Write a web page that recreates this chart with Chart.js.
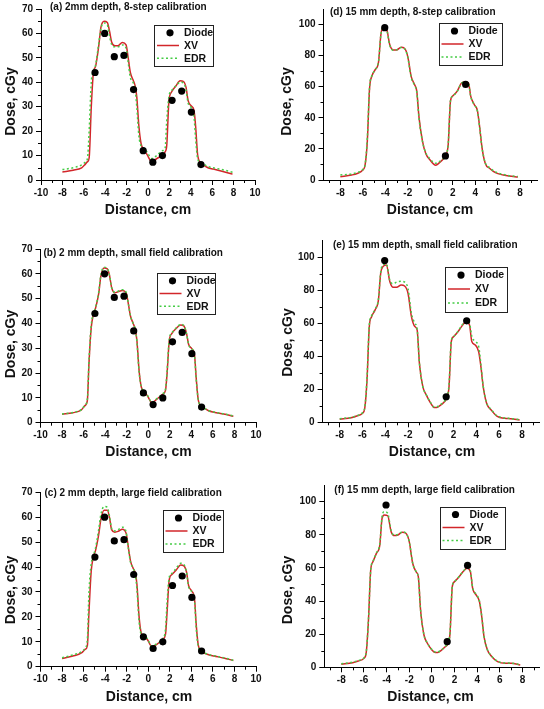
<!DOCTYPE html>
<html><head><meta charset="utf-8">
<script src="https://cdn.jsdelivr.net/npm/chart.js@4/dist/chart.umd.min.js"></script>
<style>
html,body{margin:0;padding:0;background:#fff;width:544px;height:709px;overflow:hidden}
canvas{position:absolute;left:0;top:0}
</style>
</head><body>
<canvas id="c0" width="544" height="709"></canvas>
<canvas id="c1" width="544" height="709"></canvas>
<canvas id="c2" width="544" height="709"></canvas>
<canvas id="c3" width="544" height="709"></canvas>
<canvas id="c4" width="544" height="709"></canvas>
<canvas id="c5" width="544" height="709"></canvas>
<script>
// ---------- DATA ----------
const xLeft = [-8, -7, -6.2, -5.85, -5.65, -5.5, -5.3, -5.1, -4.9, -4.6, -4.4, -4.1, -3.8, -3.6, -3.4, -3.1, -2.8, -2.4, -2.05, -1.85, -1.65, -1.4, -1.2, -1.05, -0.85, -0.65, -0.4, -0.1, 0.35, 0.8, 1.35, 1.6, 1.75, 1.95, 2.2, 2.6, 3.0, 3.3, 3.55, 3.75, 4.05, 4.3, 4.45, 4.65, 5.0, 5.6, 6.1, 7.0, 7.9];
const xvA  = [3.3, 4.0, 5.0, 6.5, 7.5, 9, 30, 44, 46.5, 55, 62.5, 65, 64.5, 61, 56.5, 55, 55, 56.3, 55.3, 50, 44, 41, 38.5, 34, 22, 15, 12.5, 10.5, 7.5, 8.7, 10.3, 11.5, 14, 32, 36, 38.5, 40.6, 40.4, 38, 32.5, 30.3, 28.5, 22, 10, 6.8, 5, 4.5, 3.5, 2.4];
const edrA = [4.3, 5.0, 6.2, 7.3, 9, 20, 40, 44.5, 47, 56, 62, 64.3, 63.5, 59, 55.5, 54.5, 54.5, 55.3, 54, 48, 42, 40, 37, 30, 18, 14, 13, 11.5, 8.8, 10, 12, 13, 24, 34, 36.5, 38.5, 40, 39.8, 37, 31.5, 29.5, 26, 17, 8.5, 7, 5.5, 5, 4.2, 3.2];
const xvB  = [3.4, 4.0, 5.2, 7, 9, 24, 38, 43.5, 46, 52, 59, 62.3, 62, 59.5, 54.5, 52.4, 52.8, 53.3, 52.3, 48, 43, 40, 37.5, 33, 21, 14.5, 12.5, 11, 8, 9.5, 11.5, 13, 20, 33, 36, 38, 39.4, 39, 36, 31.5, 29.8, 27, 18, 9, 6.5, 4.8, 4.2, 3.5, 2.6];
const edrB = [3.5, 4.1, 5.3, 7.2, 9.5, 25, 39, 43.8, 46.3, 52.5, 59.5, 62.6, 62.2, 59.5, 54.5, 52.6, 53, 53.6, 52.5, 48, 43, 40, 37.5, 32.5, 20.5, 14.5, 12.7, 11.2, 8.2, 9.7, 11.7, 13.5, 21, 33.5, 36.2, 38.2, 39.6, 39.2, 36, 31.5, 29.8, 26.5, 17.5, 9, 6.6, 4.9, 4.3, 3.6, 2.7];
const xvC  = [3.3, 4.3, 5.5, 7, 8.5, 22, 38, 44, 46.5, 53, 59, 62.8, 62.8, 60, 55, 54, 54.3, 55.2, 53.5, 48, 42.5, 39.5, 37.5, 33, 20, 13.5, 12, 11, 8, 9, 11, 13, 22, 35, 37, 38.8, 40.8, 40.5, 38, 32.5, 30.3, 27, 17, 8.5, 6, 4.8, 4.3, 3.5, 2.5];
const edrC = [3.6, 4.7, 6, 7.5, 11, 30, 41, 44.5, 47.5, 55, 61, 64.3, 64, 60.5, 55.5, 54.5, 55, 56, 54, 47.5, 42, 39.5, 37, 31, 18, 13, 12.3, 11.3, 8.3, 9.3, 11.3, 15, 26, 36, 37.5, 39.5, 41.5, 41, 38, 32, 30, 26, 15.5, 8, 6, 4.9, 4.4, 3.6, 2.6];

const xRight = [-8, -7, -6.5, -6, -5.8, -5.6, -5.4, -5.2, -4.9, -4.6, -4.4, -4.2, -3.9, -3.6, -3.3, -3.0, -2.6, -2.3, -2.0, -1.7, -1.4, -1.2, -1.0, -0.7, -0.4, 0, 0.3, 0.5, 0.8, 1.2, 1.4, 1.6, 1.8, 2.0, 2.4, 2.8, 3.1, 3.4, 3.6, 3.9, 4.2, 4.4, 4.6, 4.9, 5.3, 5.8, 6.5, 7, 7.8];
const xvD  = [2.1, 3.2, 4.2, 6.4, 9.5, 25, 59, 66.7, 71, 76, 93, 98.5, 97.5, 87, 83.7, 83.7, 85.4, 84.7, 79.4, 66.7, 61.4, 57.2, 40.3, 25.4, 17, 12.7, 10.2, 9.5, 11, 13.8, 15.9, 23, 50.8, 54, 57.2, 62.5, 63.1, 62.5, 54, 48.7, 44.5, 33.9, 21.2, 10.6, 7.4, 4.7, 3.2, 2.5, 1.9];
const edrD = [3.2, 3.9, 4.8, 6.8, 10, 27, 60, 67, 71, 76.5, 93, 98, 97, 86.5, 83.5, 83.7, 85.2, 84.5, 79, 66, 61, 56.5, 39.5, 25, 17.5, 13.5, 11.2, 10.8, 11.8, 14, 16, 23.5, 51, 54, 57, 62.3, 63, 62.3, 53.8, 48.5, 44.3, 33.5, 21, 11, 7.8, 5.2, 3.6, 2.8, 2.2];
const xvE  = [1.8, 2.8, 3.8, 5.5, 8.5, 25.7, 58, 64, 68, 74, 90.3, 94.3, 95.4, 85.3, 81.8, 81.8, 83.2, 82.6, 78.2, 64, 58, 56, 35.8, 21.6, 16.6, 11.5, 8.9, 8.9, 10.1, 12.5, 14.5, 21.6, 48.9, 51.9, 55, 59, 61, 59, 48.9, 46.9, 42.8, 33.7, 21.6, 11.5, 7.5, 3.8, 2.4, 2.2, 1.4];
const edrE = [2.2, 3, 4, 5.8, 9, 27, 59, 64.5, 68.5, 74.5, 91, 95.5, 96, 86, 84, 85, 85.5, 85, 81, 66, 60, 56.5, 36, 21.5, 16.8, 11.8, 9.3, 9.3, 10.5, 12.8, 15, 23, 49.5, 52, 55.3, 59.5, 61.5, 60, 52, 49, 46, 35, 22, 11.8, 7.8, 4, 2.6, 2.3, 1.6];
const xvF  = [1.8, 2.8, 3.8, 5.4, 8.9, 28.6, 58.8, 63.8, 68.8, 73.8, 89.9, 92, 91.5, 81.9, 79.5, 79.9, 81.5, 80.9, 75.9, 62.8, 57.7, 54.7, 34.6, 19.5, 14.5, 10.5, 8.9, 8.9, 10.1, 12.5, 14.1, 20.5, 48.7, 51.7, 54.7, 58.1, 59.8, 57.7, 47.7, 43.7, 39.6, 30.6, 18.5, 10.5, 6.4, 3.4, 2.4, 2.4, 1.4];
const edrF = [2.2, 3.1, 4.1, 5.7, 9.2, 29, 59, 64, 69, 74.5, 91, 94, 93, 82.5, 79.8, 80.2, 81.8, 81, 76, 63, 57.8, 54.5, 34.5, 19.5, 14.7, 10.8, 9.2, 9.2, 10.3, 12.7, 14.4, 21, 49, 51.8, 54.8, 58.3, 60, 58, 48, 44, 40, 31, 18.8, 10.8, 6.6, 3.6, 2.6, 2.5, 1.6];

const diodeXLeft  = [-4.95, -4.05, -3.15, -2.25, -1.35, -0.45, 0.45, 1.35, 2.25, 3.15, 4.05, 4.95];
const diodeYLeft  = [44, 60, 50.5, 51, 37, 12, 7.3, 10, 32.6, 36.4, 27.8, 6.3];
const diodeXRight = [-4.05, 1.35, 3.15];
const diodeYRight = [98, 15.5, 61.5];

const xTicksLeft  = [-10, -8, -6, -4, -2, 0, 2, 4, 6, 8, 10];
const yTicksLeft  = [0, 10, 20, 30, 40, 50, 60, 70];
const xTicksRight = [-8, -6, -4, -2, 0, 2, 4, 6, 8];
const yTicksRight = [0, 20, 40, 60, 80, 100];
const xMinorTicks = [-9, -7, -5, -3, -1, 1, 3, 5, 7, 9];
const yMinorLeft  = [5, 15, 25, 35, 45, 55, 65];
const yMinorRight = [10, 30, 50, 70, 90];

const panelTitles = [
  '(a) 2mm depth, 8-step calibration',
  '(b) 2 mm depth, small field calibration',
  '(c) 2 mm depth, large field calibration',
  '(d) 15 mm depth, 8-step calibration',
  '(e) 15 mm depth, small field calibration',
  '(f) 15 mm depth, large field calibration'
];
const seriesNames = ['Diode', 'XV', 'EDR'];
const xAxisTitle = 'Distance, cm';
const yAxisTitle = 'Dose, cGy';

// ---------- LAYOUT (positions) ----------
const boxes = [
  {area:[41, 7.5, 255, 180],     xr:[-10,10],   ymax:70,  title:[50, 7],     ytl:[11, 101.5],  xtl:[148, 210],   leg:[154, 25, 59, 41]},
  {area:[40.5, 249, 256, 422.7], xr:[-10,10],   ymax:70,  title:[43.5, 253], ytl:[11, 344],    xtl:[148.5, 452.5], leg:[156.5, 273, 58, 41]},
  {area:[40.5, 492.3, 256, 666.7], xr:[-10,10], ymax:70,  title:[44.5, 493.3], ytl:[11.5, 590], xtl:[149, 697.5], leg:[162.5, 510, 60, 42]},
  {area:[323.5, 7.3, 537, 180],  xr:[-9.5,9.5], ymax:110, title:[330, 12.7], ytl:[287, 101.5], xtl:[430, 210],   leg:[438.5, 23, 63, 42]},
  {area:[322.6, 240.8, 539, 422.3], xr:[-9.5,9.5], ymax:110, title:[333, 245], ytl:[288.5, 342.5], xtl:[432, 452.5], leg:[445, 266.5, 62, 45]},
  {area:[324.3, 485.1, 539.5, 667.3], xr:[-9.5,9.5], ymax:110, title:[334.3, 490.7], ytl:[288.5, 590], xtl:[430.5, 697.5], leg:[439.5, 506.5, 65, 42]}
];

const panelData = [
  {xs:xLeft,  xv:xvA, edr:edrA, dx:diodeXLeft,  dy:diodeYLeft,  xt:xTicksLeft,  yt:yTicksLeft,  ym:yMinorLeft},
  {xs:xLeft,  xv:xvB, edr:edrB, dx:diodeXLeft,  dy:diodeYLeft,  xt:xTicksLeft,  yt:yTicksLeft,  ym:yMinorLeft},
  {xs:xLeft,  xv:xvC, edr:edrC, dx:diodeXLeft,  dy:diodeYLeft,  xt:xTicksLeft,  yt:yTicksLeft,  ym:yMinorLeft},
  {xs:xRight, xv:xvD, edr:edrD, dx:diodeXRight, dy:diodeYRight, xt:xTicksRight, yt:yTicksRight, ym:yMinorRight},
  {xs:xRight, xv:xvE, edr:edrE, dx:diodeXRight, dy:diodeYRight, xt:xTicksRight, yt:yTicksRight, ym:yMinorRight},
  {xs:xRight, xv:xvF, edr:edrF, dx:diodeXRight, dy:diodeYRight, xt:xTicksRight, yt:yTicksRight, ym:yMinorRight}
];

const RED = '#d2262a', GREEN = '#45cc45', INK = '#111';
const FONT = '"Liberation Sans", Arial, sans-serif';
Chart.defaults.font.family = FONT;
Chart.defaults.color = INK;

const W_Y = 30, H_X = 20;

function makeChart(i) {
  const B = boxes[i], D = panelData[i];
  const [L, T, R, Bt] = B.area;
  const pts = (xs, ys) => xs.map((x, k) => ({x, y: ys[k]}));
  const decor = {
    id: 'decor' + i,
    afterDraw(chart) {
      const ctx = chart.ctx, xs = chart.scales.x, ys = chart.scales.y;
      ctx.save();
      // minor ticks
      ctx.strokeStyle = '#000'; ctx.lineWidth = 1;
      ctx.beginPath();
      xMinorTicks.forEach(v => {
        if (v < xs.min || v > xs.max) return;
        const px = Math.round(xs.getPixelForValue(v)) + 0.5;
        ctx.moveTo(px, ys.bottom); ctx.lineTo(px, ys.bottom + 3);
      });
      D.ym.forEach(v => {
        const py = Math.round(ys.getPixelForValue(v)) + 0.5;
        ctx.moveTo(xs.left, py); ctx.lineTo(xs.left - 3, py);
      });
      ctx.stroke();
      // panel title
      ctx.fillStyle = INK;
      ctx.font = 'bold 10px ' + FONT;
      ctx.textAlign = 'left'; ctx.textBaseline = 'middle';
      ctx.fillText(panelTitles[i], B.title[0], B.title[1]);
      // axis titles
      ctx.font = 'bold 14px ' + FONT;
      ctx.textAlign = 'center';
      ctx.fillText(xAxisTitle, B.xtl[0], B.xtl[1]);
      ctx.save();
      ctx.translate(B.ytl[0], B.ytl[1]);
      ctx.rotate(-Math.PI / 2);
      ctx.fillText(yAxisTitle, 0, 0);
      ctx.restore();
      // legend
      const [lx, ly, lw, lh] = B.leg;
      ctx.fillStyle = '#fff';
      ctx.fillRect(lx, ly, lw, lh);
      ctx.strokeStyle = '#222'; ctx.lineWidth = 1;
      ctx.strokeRect(Math.round(lx) + 0.5, Math.round(ly) + 0.5, Math.round(lw), Math.round(lh));
      const rows = [ly + lh * 0.19, ly + lh * 0.5, ly + lh * 0.81];
      ctx.fillStyle = '#000';
      ctx.beginPath(); ctx.arc(lx + 16, rows[0], 3.6, 0, Math.PI * 2); ctx.fill();
      ctx.strokeStyle = RED; ctx.lineWidth = 1.5;
      ctx.beginPath(); ctx.moveTo(lx + 3, rows[1]); ctx.lineTo(lx + 25, rows[1]); ctx.stroke();
      ctx.strokeStyle = GREEN; ctx.setLineDash([2, 2.5]);
      ctx.beginPath(); ctx.moveTo(lx + 3, rows[2]); ctx.lineTo(lx + 25, rows[2]); ctx.stroke();
      ctx.setLineDash([]);
      ctx.fillStyle = INK;
      ctx.font = 'bold 10.5px ' + FONT;
      ctx.textAlign = 'left';
      seriesNames.forEach((n, k) => ctx.fillText(n, lx + 30, rows[k] + 0.5));
      ctx.restore();
    }
  };
  const gridOpts = {display: true, drawOnChartArea: false, drawTicks: true, tickLength: 5, tickColor: '#000', color: '#000', lineWidth: 1};
  return new Chart(document.getElementById('c' + i), {
    type: 'line',
    data: {
      datasets: [
        {label: seriesNames[0], data: pts(D.dx, D.dy), showLine: false, pointRadius: 3.6, pointHoverRadius: 3.6,
         pointBackgroundColor: '#000', pointBorderColor: '#000', pointBorderWidth: 0, order: 0},
        {label: seriesNames[2], data: pts(D.xs, D.edr), borderColor: GREEN, borderWidth: 1.5, borderDash: [2, 2.5],
         pointRadius: 0, cubicInterpolationMode: 'monotone', fill: false, order: 1},
        {label: seriesNames[1], data: pts(D.xs, D.xv), borderColor: RED, borderWidth: 1.5,
         pointRadius: 0, cubicInterpolationMode: 'monotone', fill: false, order: 2}
      ]
    },
    options: {
      responsive: false, animation: false, devicePixelRatio: 1, events: [],
      layout: {padding: {left: L - W_Y, top: T, right: 544 - R, bottom: 709 - Bt - H_X}},
      plugins: {legend: {display: false}, tooltip: {enabled: false}, title: {display: false}},
      scales: {
        x: {
          type: 'linear', min: B.xr[0], max: B.xr[1],
          afterBuildTicks: s => { s.ticks = D.xt.map(v => ({value: v})); },
          afterFit: s => { s.height = H_X; },
          grid: gridOpts,
          border: {display: true, color: '#000', width: 1},
          ticks: {font: {size: 10, weight: 'bold'}, color: INK, padding: 2, maxRotation: 0, autoSkip: false}
        },
        y: {
          type: 'linear', min: 0, max: B.ymax,
          afterBuildTicks: s => { s.ticks = D.yt.map(v => ({value: v})); },
          afterFit: s => { s.width = W_Y; },
          grid: gridOpts,
          border: {display: true, color: '#000', width: 1},
          ticks: {font: {size: 10, weight: 'bold'}, color: INK, padding: 3, autoSkip: false}
        }
      }
    },
    plugins: [decor]
  });
}
for (let i = 0; i < 6; i++) makeChart(i);
</script>
</body></html>
